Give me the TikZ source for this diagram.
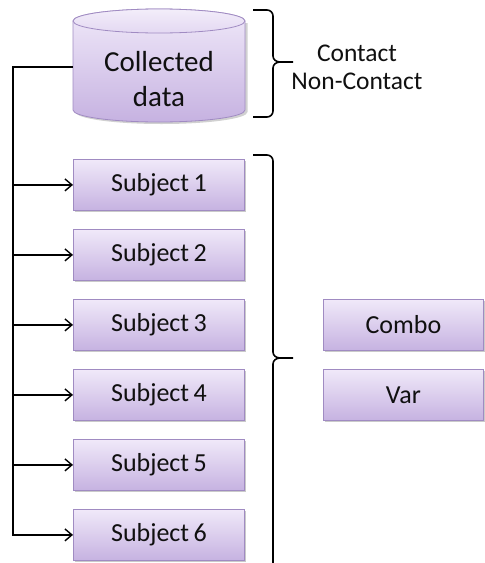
\documentclass[tikz,border=0pt]{standalone}
\usepackage{fontspec}
\setmainfont{Carlito}
\usetikzlibrary{arrows.meta,shadows}
\definecolor{lavtop}{HTML}{F0E9F9}
\definecolor{lavbot}{HTML}{C6B2E1}
\definecolor{lavedge}{HTML}{A08BC2}
\definecolor{inktext}{HTML}{101010}
\tikzset{
  x=1pt, y=-1pt,
  boxnode/.style={draw=lavedge, line width=0.8pt, top color=lavtop, bottom color=lavbot,
    minimum width=171pt, minimum height=51pt, inner sep=0pt, anchor=north west,
    font=\fontsize{26}{29}\selectfont, text=inktext,
    drop shadow={shadow xshift=1.5pt, shadow yshift=-2pt, opacity=0.35, fill=black!60}},
  wire/.style={line width=1.6pt, black},
  feed/.style={wire, -{Straight Barb[length=7pt,width=12pt,line width=1.4pt]}},
  bracket/.style={line width=1.6pt, black},
  lbl/.style={font=\fontsize{25.5}{28}\selectfont, text=inktext, align=center}
}
\begin{document}
\begin{tikzpicture}
\useasboundingbox (0,0) rectangle (485,563);

% database cylinder
\fill[black!60, opacity=0.3] (75.5,23) -- (75.5,112) arc[start angle=180, end angle=360, x radius=86, y radius=-12] -- (247.5,23) -- cycle;
\shade[top color=lavtop, bottom color=lavbot, draw=lavedge, line width=0.8pt]
  (73,21) -- (73,110) arc[start angle=180, end angle=360, x radius=86, y radius=-12] -- (245,21)
  arc[start angle=0, end angle=180, x radius=86, y radius=-12] -- cycle;
\shade[top color=lavtop!80!white, bottom color=lavtop!70!lavbot, draw=lavedge, line width=0.8pt]
  (159,21) ellipse[x radius=86, y radius=12];
\node[minimum width=172pt, minimum height=90pt, inner sep=0pt] (db) at (159,67) {};
\node[font=\fontsize{29}{35}\selectfont, text=inktext, align=center] at (159,79) {Collected\\data};

% subject boxes
\node[boxnode] (s1) at (73,159) {Subject\,1};
\node[boxnode] (s2) at (73,229) {Subject\,2};
\node[boxnode] (s3) at (73,299) {Subject\,3};
\node[boxnode] (s4) at (73,369) {Subject\,4};
\node[boxnode] (s5) at (73,439) {Subject\,5};
\node[boxnode] (s6) at (73,509) {Subject\,6};

% result boxes
\node[boxnode, minimum width=160pt] (combo) at (323,299) {Combo};
\node[boxnode, minimum width=160pt] (var) at (323,369) {Var};

% distribution lines
\coordinate (trunk) at (13,536);
\draw[wire] (db.west) -- (db.west -| trunk) -- (trunk);
\foreach \s in {s1,s2,s3,s4,s5,s6}
  \draw[feed] (\s.west -| trunk) -- (\s.west);

% brace for the data types
\draw[bracket] (253,10) -- (267,10) to[out=0,in=90] (273,16) -- (273,56)
  to[out=-90,in=180] (280,62) -- (293,62);
\draw[bracket] (280,62) to[out=180,in=90] (273,68) -- (273,111)
  to[out=-90,in=0] (267,117) -- (253,117);
\node[lbl] (types) at (357,67) {Contact\\Non-Contact};

% brace for the subjects
\draw[bracket] (253,155) -- (267,155) to[out=0,in=90] (273,161) -- (273,352)
  to[out=-90,in=180] (280,358) -- (293,358);
\draw[bracket] (280,358) to[out=180,in=90] (273,364) -- (273,565);
\end{tikzpicture}
\end{document}
